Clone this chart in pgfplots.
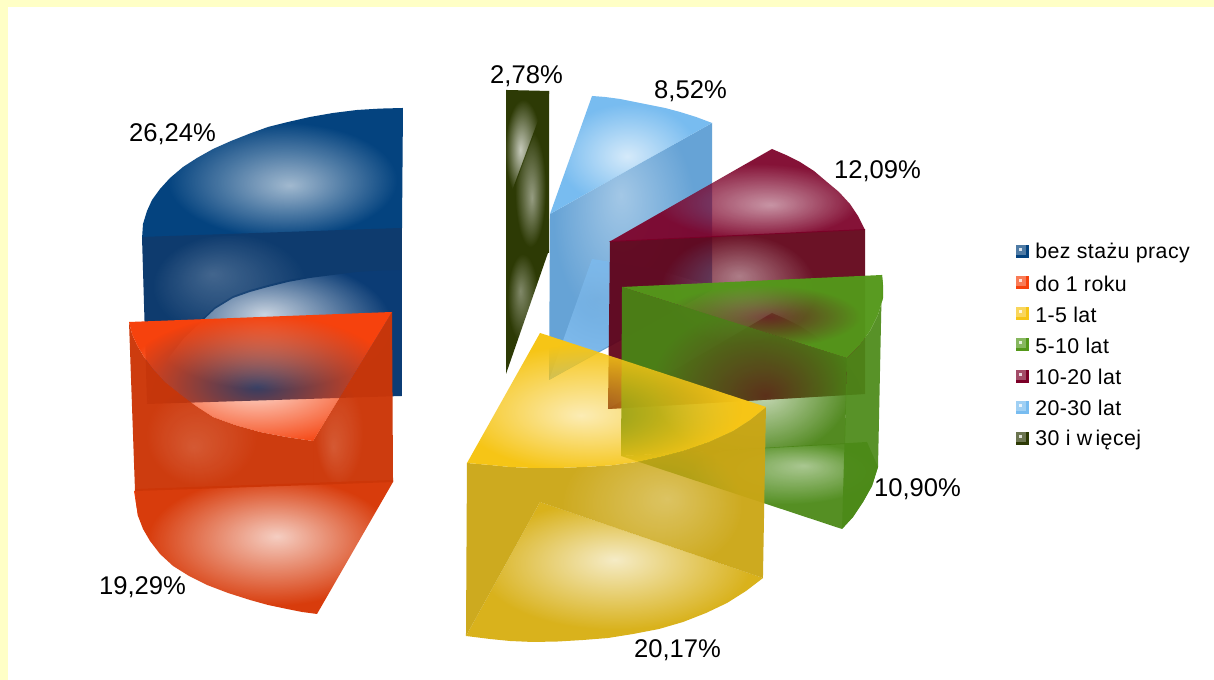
\documentclass[border=0pt]{standalone}
\usepackage{fontspec}
\setmainfont{Liberation Sans}
\newfontfamily\legf[LetterSpace=2]{Liberation Sans}
\usepackage{pgfplots}
\pgfplotsset{compat=1.18}
\usetikzlibrary{fadings}
\definecolor{cblue}{HTML}{04437F}
\definecolor{cbluew}{HTML}{0E3B6E}
\definecolor{cblueb}{HTML}{0B3C75}
\definecolor{cred}{HTML}{F6420D}
\definecolor{credw}{HTML}{CC3608}
\definecolor{credb}{HTML}{D83C0C}
\definecolor{cyel}{HTML}{F6C516}
\definecolor{cyelw}{HTML}{CBA614}
\definecolor{cyelb}{HTML}{D9B21C}
\definecolor{cgre}{HTML}{54981A}
\definecolor{cgrew}{HTML}{4A8416}
\definecolor{cgreb}{HTML}{4C8A18}
\definecolor{cmar}{HTML}{7C0028}
\definecolor{cmarw}{HTML}{600016}
\definecolor{cmarb}{HTML}{9A4A60}
\definecolor{clb}{HTML}{78BCF0}
\definecolor{clbw}{HTML}{66A3D6}
\definecolor{clbb}{HTML}{7CB8EA}
\definecolor{col}{HTML}{2D3A05}
\definecolor{bgy}{HTML}{FFFFC6}
\newcommand\mkfade[5]{%
  \pgfdeclareradialshading{#1s}{\pgfpoint{#2bp}{#3bp}}{color(0bp)=(white!#4!black);color(#5bp)=(white);color(50bp)=(white)}%
  \pgfdeclarefading{#1}{\pgfuseshading{#1s}}}
\mkfade{fbt}{3.3}{-4.5}{37}{22}
\mkfade{fbw}{-11.5}{12}{78}{15}
\mkfade{fbb}{-2}{8}{22}{24}
\mkfade{frt}{-0.7}{-4}{18}{26}
\mkfade{frl}{-7.5}{-12}{85}{15}
\mkfade{frr}{-12.5}{-14}{85}{15}
\mkfade{frb}{2.5}{4}{25}{24}
\mkfade{fot}{-8.5}{0}{27}{21}
\mkfade{fow}{5}{-8}{50}{18}
\mkfade{fob}{-8.5}{8.5}{60}{18}
\mkfade{flt}{-1.2}{-0.5}{31}{22}
\mkfade{flw}{-3}{11}{60}{22}
\mkfade{flb}{-10}{9}{50}{18}
\mkfade{fmt}{6.5}{-5}{45}{20}
\mkfade{fmw}{0.5}{12}{55}{15}
\mkfade{fmb}{2}{-4.5}{50}{20}
\mkfade{fgt}{2.8}{0}{18}{19}
\mkfade{fgw}{7}{-7}{35}{22}
\mkfade{fgb}{10.5}{11.5}{50}{18}
\mkfade{fyt}{-6}{-5.5}{32}{24}
\mkfade{fyw}{8.5}{5}{70}{15}
\mkfade{fyb}{0}{4.5}{25}{23}
% #1 colour, #2 fading, #3 opacity, #4 points
\newcommand\face[4]{\addplot[fill=#1,draw=none,fill opacity=#3,path fading=#2,fit fading=true] coordinates {#4} --cycle;}
\newcommand\solid[3]{\addplot[fill=#1,draw=none,fill opacity=#2] coordinates {#3} --cycle;}
\newcommand\lab[3]{\node[anchor=center,inner sep=0pt,font=\fontsize{19.2}{23}\selectfont] at (axis cs:#1,#2) {#3};}
\newcommand\leg[2]{\node[anchor=west,inner sep=0pt,font=\legf\fontsize{16}{19}\selectfont] at (axis cs:1035,#1) {#2};}
\begin{document}
\begin{tikzpicture}
\begin{axis}[width=910.5pt,height=510pt,scale only axis,axis lines=none,clip=false,
  xmin=0,xmax=1214,ymin=0,ymax=680,y dir=reverse]
% page
\solid{bgy}{1}{(0,0)(1214,0)(1214,680)(0,680)}
\solid{white}{1}{(8,7)(1214,7)(1214,680)(8,680)}
% blue
\face{cblue}{fbt}{1}{(403,108)(380,108.6)(357,110)(333,113)(310,117)(288,122)(268,127)(250,133.5)(231,141)(213,149)(197,158)(183,167)(170,178)(160,189)(152,200)(147,211)(143,224)(142,239)(402,230)}
\face{cblueb}{fbb}{1}{(402,268)(380,268.6)(357,270)(333,273)(310,276)(288,280)(268,285)(250,290)(233,296)(215,307)(200,321)(184,336)(170,354)(157,373)(147,404)(402,396)}
\face{cbluew}{fbw}{1}{(142,237)(402,228)(402,270)(380,270.6)(357,272)(333,275)(310,278)(288,282)(268,287)(250,292)(233,298)(215,309)(200,323)(184,338)(170,356)(157,375)(147,404)}
% olive
\face{col}{fot}{1}{(506,90)(549,91)(549,94)(506,210)}
\face{col}{fow}{1}{(506,207)(549,91)(549,253)(506,253)}
\face{col}{fob}{1}{(506,250)(549,250)(506,374)}
% light blue
\face{clbw}{flw}{1}{(550,214)(712,123)(712,290)(549,380)}
\face{clbb}{flb}{1}{(592,259)(650,268)(712,286)(549,380)}
\face{clb}{flt}{1}{(592,96)(605,97)(620,99)(635,102)(650,105)(665,108)(680,112)(696,117)(712,123)(550,214)}
% maroon
\face{cmarb}{fmb}{.9}{(772,313)(786,319)(800,326)(814,335)(827,346)(839,356)(850,368)(858,380)(863,394)(608,409)}
\face{cmarw}{fmw}{.93}{(610,241)(865,229)(865,394)(608,409)}
\face{cmar}{fmt}{.93}{(609,242)(772,149)(786,155)(800,162)(814,171)(827,182)(839,192)(850,204)(858,216)(865,230)}
% green
\face{cgreb}{fgb}{.95}{(621,456)(867,442)(878,467)(872,486)(863,502)(853,517)(842,529)}
\face{cgrew}{fgw}{.95}{(622,287)(847,358)(845,444)(621,456)}
\solid{cgreb}{.93}{(847,358)(859,346)(870,331)(878,315)(883,298)(883,285)(882,275)(878,467)(872,486)(863,502)(853,517)(842,529)}
\face{cgre}{fgt}{.97}{(622,287)(882,275)(883,285)(883,298)(878,315)(870,331)(859,346)(847,358)}
% yellow
\face{cyelb}{fyb}{1}{(540,502)(763,578)(746,591)(727,603)(706,613)(683,622)(659,629)(633,634)(608,638)(583,640)(558,641.5)(533,642)(510,641)(490,639)(466,636)}
\face{cyelw}{fyw}{.95}{(467,463)(490,465)(510,467)(533,468)(558,468)(583,467)(610,465.5)(637,462)(660,457)(683,451)(709,442)(733,431)(750,420)(766,407)(763,578)(540,502)(466,636)}
\face{cyel}{fyt}{1}{(540,333)(766,407)(750,420)(733,431)(709,442)(683,451)(660,457)(637,462)(610,465.5)(583,467)(558,468)(533,468)(510,467)(490,465)(467,463)}
% red
\solid{cred}{1}{(134,491)(141,491)(144,520)(138,516)}
\face{credb}{frb}{1}{(135,489)(393,480)(393,482)(317,614)(302,612)(287,609)(268,605)(250,600)(228,593)(207,585)(189,576)(173,566)(160,554)(150,541)(143,529)(138,516)(136,503)}
\face{credw}{frl}{.97}{(129,322)(132,334)(137,345)(144,357)(153,369)(165,382)(180,394)(196,406)(213,417)(235,425)(260,432)(286,437)(313,441)(313,485)(135,491)}
\face{credw}{frr}{.97}{(313,441)(392,312)(393,482)(313,485)}
\face{cred}{frt}{1}{(129,322)(392,312)(313,441)(286,437)(260,432)(235,425)(213,417)(196,406)(180,394)(165,382)(153,369)(144,357)(137,345)(132,334)}
% legend markers
\solid{cblue}{1}{(1016,245)(1029,245)(1029,258)(1016,258)}
\solid{cblue!70!white}{1}{(1016,245)(1026,245)(1026,255)(1016,255)}
\solid{white!85!cblue}{1}{(1019,248)(1022,248)(1022,251)(1019,251)}
\solid{cred}{1}{(1016,276)(1029,276)(1029,289)(1016,289)}
\solid{cred!70!white}{1}{(1016,276)(1026,276)(1026,286)(1016,286)}
\solid{white!85!cred}{1}{(1019,279)(1022,279)(1022,282)(1019,282)}
\solid{cyel}{1}{(1016,307)(1029,307)(1029,320)(1016,320)}
\solid{cyel!70!white}{1}{(1016,307)(1026,307)(1026,317)(1016,317)}
\solid{white!85!cyel}{1}{(1019,310)(1022,310)(1022,313)(1019,313)}
\solid{cgre}{1}{(1016,338)(1029,338)(1029,351)(1016,351)}
\solid{cgre!70!white}{1}{(1016,338)(1026,338)(1026,348)(1016,348)}
\solid{white!85!cgre}{1}{(1019,341)(1022,341)(1022,344)(1019,344)}
\solid{cmar}{1}{(1016,370)(1029,370)(1029,383)(1016,383)}
\solid{cmar!70!white}{1}{(1016,370)(1026,370)(1026,380)(1016,380)}
\solid{white!85!cmar}{1}{(1019,373)(1022,373)(1022,376)(1019,376)}
\solid{clb}{1}{(1016,401)(1029,401)(1029,414)(1016,414)}
\solid{clb!70!white}{1}{(1016,401)(1026,401)(1026,411)(1016,411)}
\solid{white!85!clb}{1}{(1019,404)(1022,404)(1022,407)(1019,407)}
\solid{col}{1}{(1016,432)(1029,432)(1029,445)(1016,445)}
\solid{col!70!white}{1}{(1016,432)(1026,432)(1026,442)(1016,442)}
\solid{white!85!col}{1}{(1019,435)(1022,435)(1022,438)(1019,438)}
\leg{253}{bez stażu pracy}
\leg{284}{do 1 roku}
\leg{315}{1-5 lat}
\leg{346}{5-10 lat}
\leg{377}{10-20 lat}
\leg{408}{20-30 lat}
\leg{440}{30 i w\kern2.5pt ięcej}
\lab{172.5}{134}{26,24\%}
\lab{142.5}{587}{19,29\%}
\lab{526.5}{76}{2,78\%}
\lab{690.5}{91}{8,52\%}
\lab{877.5}{171}{12,09\%}
\lab{917.5}{489}{10,90\%}
\lab{677.5}{650}{20,17\%}
\end{axis}
\end{tikzpicture}
\end{document}
